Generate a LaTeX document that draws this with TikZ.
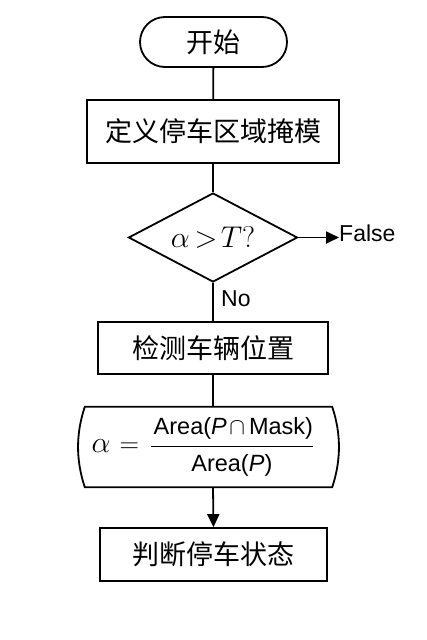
\documentclass[tikz,border=0pt]{standalone}
\usepackage{fix-cm}
\usepackage{fontspec}
\setsansfont{Liberation Sans}
\newfontfamily\cjk{Noto Sans CJK SC}
\usetikzlibrary{shapes.geometric,arrows.meta}
\newcommand{\fracfont}{\sffamily\fontsize{23.5}{28}\selectfont}
\begin{document}
\begin{tikzpicture}[x=1pt,y=-1pt,
  ln/.style={line width=1.8pt},
  arr/.style={line width=1.8pt,-{Triangle[length=13pt,width=12pt]}},
  proc/.style={draw,line width=1.8pt,inner sep=0pt,font=\cjk\fontsize{27}{32}\selectfont},
  term/.style={proc,rounded corners=25pt,minimum width=147pt,minimum height=50pt},
  dec/.style={draw,line width=1.8pt,diamond,shape aspect=1.9,inner sep=0pt,minimum width=169pt,minimum height=89pt,font=\fontsize{30}{36}\selectfont},
  lbl/.style={inner sep=0pt,font=\sffamily\fontsize{23}{27}\selectfont}]
\useasboundingbox (0,0) rectangle (427,640);
\node[term] (start) at (213.5,42) {开始};
\node[proc,minimum width=252pt,minimum height=63pt] (def) at (213,131.5) {定义停车区域掩模};
\node[dec] (dec) at (213,237.5) {$\alpha\mkern3mu{>}\mkern2mu T?$};
\node[proc,minimum width=230pt,minimum height=52pt] (det) at (213,348) {检测车辆位置};
\node[inner sep=0pt,minimum width=247pt,minimum height=80pt] (calc) at (208.5,447) {};
\draw[ln] (calc.north west) -- (calc.north east)
  .. controls ([xshift=9pt,yshift=-27pt]calc.north east) and ([xshift=9pt,yshift=27pt]calc.south east) .. (calc.south east)
  -- (calc.south west)
  .. controls ([xshift=-9pt,yshift=27pt]calc.south west) and ([xshift=-9pt,yshift=-27pt]calc.north west) .. (calc.north west) -- cycle;
\node[inner sep=0pt,anchor=west,font=\fontsize{27}{32}\selectfont] (ftext) at (91.5,447)
  {$\displaystyle\mbox{\fontsize{30}{36}\selectfont$\alpha$}\mkern6mu{=}\mkern7mu\frac{\mbox{\fracfont\kern3pt Area(\textit{P}\kern2.5pt$\cap$\kern4pt Mask)}}{\mbox{\fracfont Area(\textit{P})}}$};
\node[proc,minimum width=227pt,minimum height=53pt] (judge) at (213.5,554.5) {判断停车状态};
\node[lbl,anchor=west] (false) at (339,233.5) {False};
\node[lbl,anchor=west] (no) at (221,298.5) {No};
\draw[ln] (start) -- (def);
\draw[ln] (def) -- (dec);
\draw[arr] (dec.east) -- (dec.east -| false.west);
\draw[ln] (dec) -- (det);
\draw[ln] (det.south) -- (det.south |- calc.north);
\draw[arr] (det.south |- calc.south) -- (judge.north);
\end{tikzpicture}
\end{document}
